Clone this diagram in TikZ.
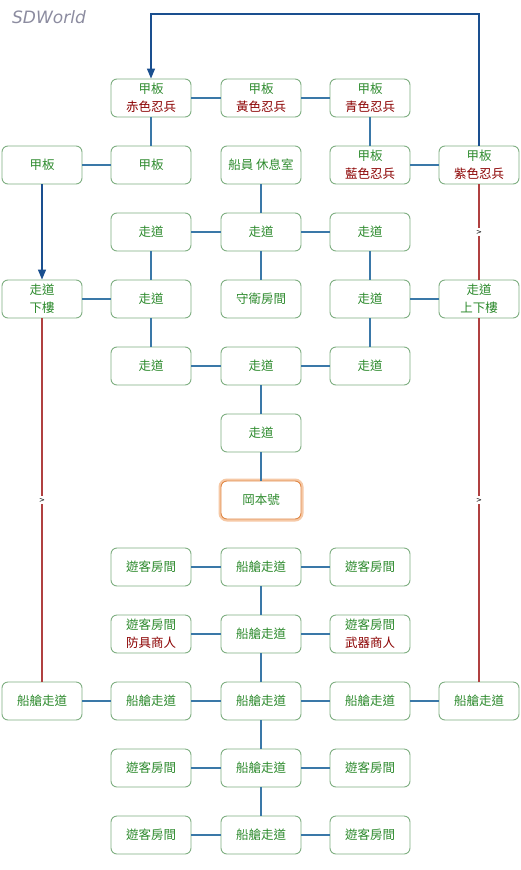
\documentclass[tikz,border=0pt]{standalone}
\usepackage{fontspec}
\setmainfont{DejaVu Sans}
\newfontfamily\cjk{Noto Sans CJK TC}
\usetikzlibrary{arrows.meta}
\definecolor{boxgreen}{HTML}{7FAF82}
\definecolor{txtgreen}{HTML}{2E8B2E}
\definecolor{txtred}{HTML}{8B0000}
\definecolor{linkblue}{HTML}{3A78A8}
\definecolor{arrowblue}{HTML}{1A4F8F}
\definecolor{linkred}{HTML}{B04040}
\definecolor{glow}{HTML}{F6C9A6}
\definecolor{glowline}{HTML}{E08848}
\definecolor{wm}{HTML}{8C8CA0}
\newcommand{\rl}[1]{\textcolor{txtred}{#1}}
\begin{document}
\begin{tikzpicture}[x=1pt,y=-1pt,
  box/.style={draw=boxgreen, rounded corners=6pt, fill=white, minimum width=80pt, minimum height=38pt, inner sep=0pt, align=center, font=\cjk\fontsize{12.5}{18}\selectfont, text=txtgreen, line width=0.9pt},
  link/.style={draw=linkblue, line width=1.3pt},
  redlink/.style={draw=linkred, line width=1.3pt},
  gt/.style={fill=white, inner sep=1.5pt, font=\fontsize{7}{7}\selectfont, text=black},
  arr/.style={-{Triangle[length=10pt,width=8pt]}, arrowblue}
]
\useasboundingbox (0,0) rectangle (521,870);
\fill[white] (0,0) rectangle (521,870);
\node[font=\fontsize{17}{17}\selectfont\itshape, text=wm] (wmk) at (49,17) {SDWorld};

% row 1
\node[box] (a2) at (151,98) {甲板\\\rl{赤色忍兵}};
\node[box] (a3) at (261,98) {甲板\\\rl{黃色忍兵}};
\node[box] (a4) at (370,98) {甲板\\\rl{青色忍兵}};
% row 2
\node[box] (b1) at (42,165) {甲板};
\node[box] (b2) at (151,165) {甲板};
\node[box] (b3) at (261,165) {船員 休息室};
\node[box] (b4) at (370,165) {甲板\\\rl{藍色忍兵}};
\node[box] (b5) at (479,165) {甲板\\\rl{紫色忍兵}};
% row 3
\node[box] (c2) at (151,232) {走道};
\node[box] (c3) at (261,232) {走道};
\node[box] (c4) at (370,232) {走道};
% row 4
\node[box] (d1) at (42,299) {走道\\下樓};
\node[box] (d2) at (151,299) {走道};
\node[box] (d3) at (261,299) {守衛房間};
\node[box] (d4) at (370,299) {走道};
\node[box] (d5) at (479,299) {走道\\上下樓};
% row 5
\node[box] (e2) at (151,366) {走道};
\node[box] (e3) at (261,366) {走道};
\node[box] (e4) at (370,366) {走道};
% row 6
\node[box] (f3) at (261,433) {走道};
% row 7
\node[box, draw=glowline, preaction={draw=glow, line width=5pt}] (g3) at (261,500) {岡本號};
% row 8
\node[box] (h2) at (151,567) {遊客房間};
\node[box] (h3) at (261,567) {船艙走道};
\node[box] (h4) at (370,567) {遊客房間};
% row 9
\node[box] (i2) at (151,634) {遊客房間\\\rl{防具商人}};
\node[box] (i3) at (261,634) {船艙走道};
\node[box] (i4) at (370,634) {遊客房間\\\rl{武器商人}};
% row 10
\node[box] (j1) at (42,701) {船艙走道};
\node[box] (j2) at (151,701) {船艙走道};
\node[box] (j3) at (261,701) {船艙走道};
\node[box] (j4) at (370,701) {船艙走道};
\node[box] (j5) at (479,701) {船艙走道};
% row 11
\node[box] (k2) at (151,768) {遊客房間};
\node[box] (k3) at (261,768) {船艙走道};
\node[box] (k4) at (370,768) {遊客房間};
% row 12
\node[box] (l2) at (151,835) {遊客房間};
\node[box] (l3) at (261,835) {船艙走道};
\node[box] (l4) at (370,835) {遊客房間};

% blue connectors
\draw[link] (a2) -- (a3);
\draw[link] (a3) -- (a4);
\draw[link] (a2) -- (b2);
\draw[link] (a4) -- (b4);
\draw[link] (b4) -- (b5);
\draw[link] (b1) -- (b2);
\draw[link] (b3) -- (c3);
\draw[link] (c2) -- (c3);
\draw[link] (c3) -- (c4);
\draw[link] (c2) -- (d2);
\draw[link] (c3) -- (d3);
\draw[link] (c4) -- (d4);
\draw[link] (d1) -- (d2);
\draw[link] (d4) -- (d5);
\draw[link] (d2) -- (e2);
\draw[link] (d4) -- (e4);
\draw[link] (e2) -- (e3);
\draw[link] (e3) -- (e4);
\draw[link] (e3) -- (f3);
\draw[link] (f3) -- (g3);
\draw[link] (h2) -- (h3);
\draw[link] (h3) -- (h4);
\draw[link] (h3) -- (i3);
\draw[link] (i2) -- (i3);
\draw[link] (i3) -- (i4);
\draw[link] (i3) -- (j3);
\draw[link] (j1) -- (j2);
\draw[link] (j2) -- (j3);
\draw[link] (j3) -- (j4);
\draw[link] (j4) -- (j5);
\draw[link] (j3) -- (k3);
\draw[link] (k2) -- (k3);
\draw[link] (k3) -- (k4);
\draw[link] (k3) -- (l3);
\draw[link] (l2) -- (l3);
\draw[link] (l3) -- (l4);

% blue arrows
\coordinate (top) at (0,14);
\draw[link, arr] (b5.north) -- (b5.north |- top) -| (a2.north);
\draw[link, arr] (b1) -- (d1);

% red connectors
\draw[redlink] (b5) -- node[gt] {>} (d5);
\draw[redlink] (d5) -- node[gt] {>} (j5);
\draw[redlink] (d1) -- node[gt] {>} (j1);
\end{tikzpicture}
\end{document}
